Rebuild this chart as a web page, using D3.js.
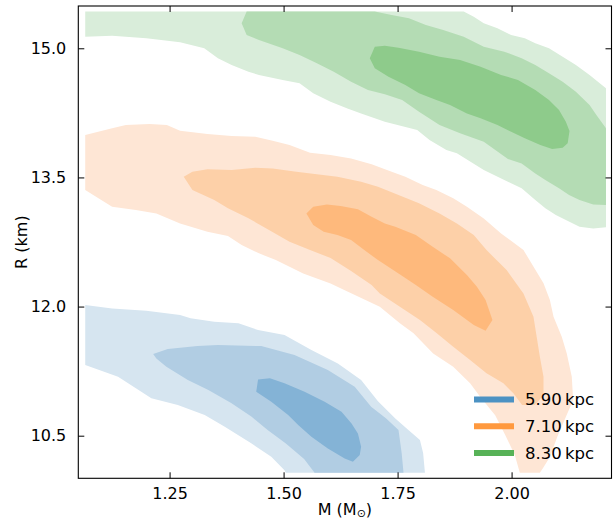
<!DOCTYPE html>
<html>
<head>
<meta charset="utf-8">
<script src="https://cdn.jsdelivr.net/npm/d3@7"></script>
<style>
  body { margin: 0; background: #fff; }
  text { font-family: "DejaVu Sans", sans-serif; fill: #000; }
</style>
</head>
<body>
<script>
// contour boundaries, [M (Msun), R (km)]
const blueOuter = [[1.065,12.018],[1.124,11.979],[1.199,11.952],[1.273,11.902],[1.296,11.863],[1.348,11.824],[1.401,11.805],[1.444,11.727],[1.502,11.669],[1.561,11.495],[1.619,11.34],[1.670,11.146],[1.707,10.90],[1.745,10.70],[1.775,10.56],[1.799,10.449],[1.806,10.30],[1.810,10.07],
  [1.505,10.07],[1.502,10.10],[1.473,10.256],[1.429,10.411],[1.371,10.604],[1.327,10.74],[1.268,10.856],[1.210,10.934],[1.137,11.185],[1.065,11.32]];
const blueMid = [[1.214,11.449],[1.246,11.507],[1.311,11.541],[1.356,11.553],[1.451,11.541],[1.524,11.437],[1.597,11.262],[1.656,11.068],[1.692,10.836],[1.725,10.70],[1.752,10.565],[1.759,10.295],[1.763,10.07],
  [1.568,10.07],[1.545,10.23],[1.505,10.41],[1.465,10.565],[1.43,10.72],[1.385,10.88],[1.335,11.03],[1.290,11.146],[1.243,11.301],[1.221,11.398]];
const blueDark = [[1.444,11.154],[1.470,11.166],[1.502,11.108],[1.546,11.010],[1.590,10.894],[1.627,10.778],[1.649,10.643],[1.663,10.527],[1.670,10.371],[1.667,10.275],[1.652,10.197],[1.634,10.236],[1.597,10.352],[1.561,10.487],[1.532,10.623],[1.510,10.740],[1.473,10.894],[1.440,11.010]];

const orangeOuter = [[1.065,13.354],[1.065,13.993],[1.124,14.070],[1.154,14.109],[1.206,14.120],[1.244,14.109],[1.273,14.043],[1.333,14.004],[1.386,13.981],[1.438,13.973],[1.476,13.927],[1.513,13.876],[1.558,13.787],[1.603,13.760],[1.648,13.721],[1.693,13.652],[1.737,13.566],[1.767,13.508],[1.805,13.412],[1.835,13.354],[1.872,13.257],[1.902,13.160],[1.939,13.024],[1.977,12.850],[2.026,12.657],[2.070,12.270],[2.084,12.076],[2.092,11.882],[2.110,11.649],[2.121,11.456],[2.132,11.184],[2.135,10.914],[2.100,10.484],[2.084,10.252],[2.069,10.124],[2.062,10.07],
  [2.018,10.07],[2.007,10.275],[1.986,10.508],[1.964,10.739],[1.931,10.952],[1.909,11.108],[1.872,11.301],[1.828,11.456],[1.785,11.689],[1.755,11.805],[1.711,11.998],[1.633,12.192],[1.603,12.269],[1.573,12.327],[1.543,12.385],[1.513,12.463],[1.483,12.540],[1.446,12.618],[1.408,12.714],[1.378,12.819],[1.333,12.869],[1.273,12.966],[1.221,13.082],[1.176,13.121],[1.124,13.160],[1.094,13.257]];
const orangeMid = [[1.281,13.508],[1.300,13.566],[1.333,13.594],[1.386,13.586],[1.438,13.613],[1.476,13.605],[1.528,13.566],[1.573,13.536],[1.618,13.508],[1.670,13.450],[1.707,13.392],[1.752,13.295],[1.797,13.199],[1.842,13.082],[1.880,12.966],[1.917,12.831],[1.945,12.657],[1.989,12.424],[2.026,12.153],[2.048,11.882],[2.055,11.649],[2.062,11.417],[2.070,11.184],[2.070,10.972],[2.051,10.856],[2.023,10.856],[2.004,10.992],[1.982,11.108],[1.945,11.224],[1.909,11.379],[1.872,11.533],[1.836,11.689],[1.799,11.843],[1.755,11.998],[1.711,12.153],[1.693,12.250],[1.648,12.413],[1.603,12.564],[1.558,12.657],[1.513,12.753],[1.468,12.889],[1.423,13.025],[1.378,13.141],[1.348,13.238],[1.300,13.354]];
const orangeDark = [[1.550,13.082],[1.565,13.160],[1.595,13.187],[1.625,13.168],[1.663,13.129],[1.693,13.044],[1.722,12.966],[1.745,12.927],[1.790,12.831],[1.827,12.695],[1.865,12.560],[1.902,12.366],[1.924,12.230],[1.943,12.075],[1.958,11.843],[1.943,11.719],[1.917,11.785],[1.872,11.959],[1.827,12.114],[1.790,12.250],[1.752,12.385],[1.707,12.540],[1.677,12.656],[1.648,12.773],[1.618,12.831],[1.588,12.869],[1.565,12.947]];

const greenOuter = [[1.065,15.426],[1.895,15.426],[1.917,15.367],[1.939,15.290],[1.969,15.232],[1.999,15.154],[2.029,15.116],[2.052,15.058],[2.082,15.0],[2.112,14.903],[2.141,14.806],[2.171,14.690],[2.207,14.535],[2.207,12.920],[2.179,12.908],[2.149,12.927],[2.119,13.005],[2.097,13.063],[2.074,13.141],[2.052,13.237],[2.022,13.373],[1.984,13.470],[1.939,13.586],[1.880,13.780],[1.857,13.818],[1.820,13.935],[1.793,14.051],[1.722,14.147],[1.670,14.244],[1.640,14.302],[1.603,14.380],[1.565,14.477],[1.535,14.593],[1.498,14.632],[1.446,14.690],[1.423,14.728],[1.386,14.806],[1.356,14.883],[1.326,15.0],[1.273,15.069],[1.199,15.116],[1.124,15.147],[1.065,15.135]];
const greenMid = [[1.419,15.426],[1.408,15.290],[1.419,15.154],[1.446,15.096],[1.498,15.0],[1.535,14.922],[1.573,14.825],[1.610,14.728],[1.648,14.612],[1.685,14.515],[1.722,14.465],[1.760,14.399],[1.797,14.264],[1.842,14.109],[1.887,14.012],[1.939,13.915],[1.992,13.714],[2.022,13.663],[2.052,13.547],[2.074,13.470],[2.104,13.373],[2.126,13.295],[2.149,13.237],[2.179,13.187],[2.207,13.179],[2.207,14.070],[2.186,14.225],[2.171,14.341],[2.141,14.496],[2.112,14.612],[2.082,14.709],[2.052,14.806],[2.022,14.883],[1.984,14.961],[1.939,15.019],[1.895,15.135],[1.850,15.213],[1.812,15.271],[1.775,15.348],[1.737,15.387],[1.700,15.426]];
const greenDark = [[1.700,15.019],[1.722,15.030],[1.752,15.007],[1.797,14.961],[1.842,14.903],[1.887,14.864],[1.932,14.787],[1.977,14.690],[2.014,14.632],[2.052,14.515],[2.082,14.399],[2.104,14.283],[2.119,14.147],[2.127,14.039],[2.123,13.896],[2.112,13.845],[2.089,13.830],[2.063,13.876],[2.029,13.954],[1.999,14.031],[1.969,14.109],[1.932,14.186],[1.902,14.244],[1.865,14.341],[1.835,14.399],[1.797,14.477],[1.767,14.574],[1.730,14.670],[1.700,14.767],[1.689,14.883]];

const distances = ["5.90\u2009kpc", "7.10\u2009kpc", "8.30\u2009kpc"];
const xTicks = [1.25, 1.50, 1.75, 2.00];
const yTicks = [10.5, 12.0, 13.5, 15.0];

const series = [
  {label: distances[0], line: "#4c92c3", levels: [blueOuter, blueMid, blueDark], fills: ["#d6e5f0", "#b1cde3", "#84b3d6"]},
  {label: distances[1], line: "#ff993e", levels: [orangeOuter, orangeMid, orangeDark], fills: ["#fee6d5", "#fdd0a8", "#feb97c"]},
  {label: distances[2], line: "#57b257", levels: [greenOuter, greenMid, greenDark], fills: ["#d9edda", "#b4dcb4", "#8ecb8b"]}
];

const W = 613, H = 520;
const m = {left: 78.3, right: 611.5, top: 6, bottom: 478.3};

const x = d3.scaleLinear().domain([1.0498, 2.2191]).range([m.left, m.right]);
const y = d3.scaleLinear().domain([10.0052, 15.4913]).range([m.bottom, m.top]);

const svg = d3.select("body").append("svg").attr("width", W).attr("height", H);

svg.append("clipPath").attr("id", "plotclip")
  .append("rect")
  .attr("x", m.left).attr("y", m.top)
  .attr("width", m.right - m.left).attr("height", m.bottom - m.top);

const line = d3.line().x(d => x(d[0])).y(d => y(d[1]));

const plot = svg.append("g").attr("clip-path", "url(#plotclip)");
series.forEach(s => {
  s.levels.forEach((poly, i) => {
    plot.append("path")
      .attr("d", line(poly) + "Z")
      .attr("fill", s.fills[i])
      .attr("stroke", "none");
  });
});

// axes, ticks inward on all four sides
const tickLen = 6;
const axes = svg.append("g");
axes.append("g").attr("transform", `translate(0,${m.bottom})`)
  .call(d3.axisBottom(x).tickValues(xTicks).tickSizeInner(-tickLen).tickSizeOuter(0).tickPadding(9).tickFormat(d3.format(".2f")));
axes.append("g").attr("transform", `translate(0,${m.top})`)
  .call(d3.axisTop(x).tickValues(xTicks).tickSizeInner(-tickLen).tickSizeOuter(0).tickFormat(""));
axes.append("g").attr("transform", `translate(${m.left},0)`)
  .call(d3.axisLeft(y).tickValues(yTicks).tickSizeInner(-tickLen).tickSizeOuter(0).tickPadding(12).tickFormat(d3.format(".1f")));
axes.append("g").attr("transform", `translate(${m.right},0)`)
  .call(d3.axisRight(y).tickValues(yTicks).tickSizeInner(-tickLen).tickSizeOuter(0).tickFormat(""));

axes.selectAll(".domain").remove();
axes.selectAll(".tick line").attr("stroke", "#000").attr("stroke-width", 1);
axes.selectAll(".tick text")
  .attr("font-family", "DejaVu Sans").attr("font-size", 16).attr("fill", "#000");

svg.append("rect")
  .attr("x", m.left).attr("y", m.top)
  .attr("width", m.right - m.left).attr("height", m.bottom - m.top)
  .attr("fill", "none").attr("stroke", "#000").attr("stroke-width", 1.1);

// axis titles
const xt = svg.append("text")
  .attr("x", (m.left + m.right) / 2).attr("y", 514.5)
  .attr("text-anchor", "middle").attr("font-size", 16);
xt.append("tspan").text("M (M");
xt.append("tspan").attr("font-size", 11).attr("dy", 2.5).text("\u2299");
xt.append("tspan").attr("dy", -2.5).text(")");

svg.append("text")
  .attr("transform", `translate(26.5,${(m.top + m.bottom) / 2}) rotate(-90)`)
  .attr("text-anchor", "middle").attr("font-size", 16)
  .text("R (km)");

// legend
const leg = svg.append("g");
series.forEach((s, i) => {
  const ly = 399.5 + i * 26.7;
  leg.append("line")
    .attr("x1", 474).attr("x2", 514).attr("y1", ly).attr("y2", ly)
    .attr("stroke", s.line).attr("stroke-width", 6);
  leg.append("text")
    .attr("x", 525).attr("y", ly).attr("dy", "0.36em")
    .attr("font-size", 16.5)
    .text(s.label);
});
</script>
</body>
</html>
